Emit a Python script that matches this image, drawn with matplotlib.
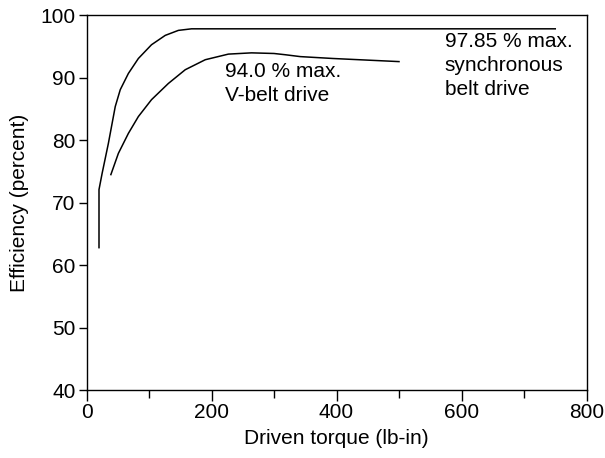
import matplotlib
matplotlib.use("Agg")
import matplotlib.pyplot as plt
from matplotlib.ticker import MultipleLocator

plt.rcParams['font.family'] = ['Liberation Sans', 'DejaVu Sans']

# Synchronous belt drive efficiency vs driven torque
sync_torque = [20, 20, 25, 35, 46, 54, 67, 83, 104, 126, 147, 168, 750]
sync_eff = [62.8, 72.1, 74.7, 79.5, 85.4, 88.1, 90.7, 93.1, 95.3, 96.8, 97.6, 97.85, 97.85]

# V-belt drive efficiency vs driven torque
vbelt_torque = [39, 51, 67, 83, 104, 131, 158, 190, 227, 264, 300, 318, 342, 394, 500]
vbelt_eff = [74.5, 77.9, 81.1, 83.8, 86.5, 89.1, 91.3, 92.9, 93.8, 94.0, 93.9, 93.7, 93.4, 93.1, 92.6]

xticks = [0, 200, 400, 600, 800]
yticks = [40, 50, 60, 70, 80, 90, 100]

FS = 15

fig = plt.figure(figsize=(6.05, 4.58), dpi=100)
ax = fig.add_axes([86.5 / 605, 1 - 390 / 458, 500 / 605, 374.6 / 458])

ax.plot(sync_torque, sync_eff, color='black', lw=1.1)
ax.plot(vbelt_torque, vbelt_eff, color='black', lw=1.1)

ax.set_xlim(0, 800)
ax.set_ylim(40, 100)
ax.set_xticks(xticks)
ax.set_yticks(yticks)
ax.xaxis.set_minor_locator(MultipleLocator(100))
ax.tick_params(axis='both', which='major', direction='out', length=6, width=1,
               labelsize=FS, pad=2, colors='black')
ax.tick_params(axis='x', which='minor', direction='out', length=6, width=1)
ax.tick_params(axis='x', which='major', length=8, pad=1.5)
for s in ax.spines.values():
    s.set_linewidth(1.0)

ax.set_xlabel('Driven torque (lb-in)', fontsize=FS, labelpad=5)
ax.set_ylabel('Efficiency (percent)', fontsize=FS)
ax.yaxis.set_label_coords(-0.115, 0.5)

ax.text(221, 92.6, '94.0 % max.\nV-belt drive', fontsize=FS, va='top', ha='left',
        linespacing=1.35)
ax.text(573, 97.4, '97.85 % max.\nsynchronous\nbelt drive', fontsize=FS, va='top',
        ha='left', linespacing=1.35)

fig.savefig('out.png', dpi=100)
